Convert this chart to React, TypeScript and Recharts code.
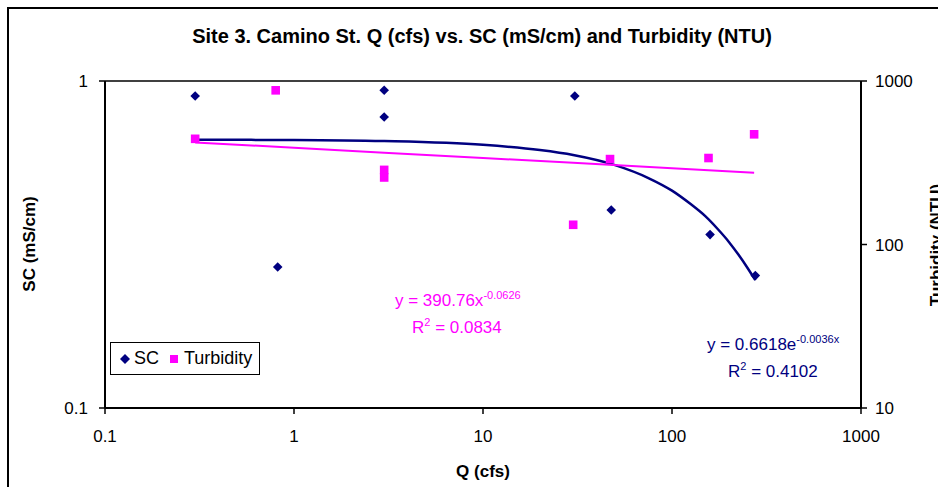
import { ScatterChart, Scatter, XAxis, YAxis, Legend, ReferenceLine } from 'recharts';

const qSC = [0.3, 0.82, 3, 3, 30.6, 47.7, 159, 276];
const scValues = [0.9, 0.27, 0.937, 0.776, 0.9, 0.403, 0.339, 0.254];
const qTurbidity = [0.3, 0.8, 3, 3, 30, 47, 156, 272];
const turbidityValues = [443, 877, 286, 257, 132, 333, 338, 472];

// trendline points
const scTrendQ = [0.3, 1, 3, 10, 20, 30, 50, 75, 100, 125, 150, 175, 200, 225, 250, 276];
const scTrendValues = [0.661, 0.66, 0.655, 0.638, 0.615, 0.594, 0.553, 0.505, 0.462, 0.421, 0.386, 0.352, 0.322, 0.294, 0.269, 0.246];
const turbTrendQ = [0.3, 1, 3, 10, 30, 100, 272];
const turbTrendValues = [421, 391, 364, 338, 316, 293, 275];

const xTicks = [0.1, 1, 10, 100, 1000];
const scTicks = [0.1, 1];
const turbTicks = [10, 100, 1000];

const NAVY = '#000080';
const PINK = '#FF00FF';
const FONT = '"Liberation Sans", Arial, sans-serif';

const toPoints = (xs: number[], ys: number[]) => xs.map((x, i) => ({ x, y: ys[i] }));

const scData = toPoints(qSC, scValues);
const turbData = toPoints(qTurbidity, turbidityValues);
const scTrend = toPoints(scTrendQ, scTrendValues);
const turbTrend = toPoints(turbTrendQ, turbTrendValues);

const Diamond = (props: any) => {
  const { cx, cy } = props;
  const r = 4.8;
  return <polygon points={`${cx},${cy - r} ${cx + r},${cy} ${cx},${cy + r} ${cx - r},${cy}`} fill={NAVY} />;
};

const Square = (props: any) => {
  const { cx, cy } = props;
  return <rect x={cx - 4.3} y={cy - 4.3} width={8.6} height={8.6} fill={PINK} />;
};

const NoDot = () => <g />;

const renderLegend = () => (
  <div style={{ width: 150, height: 33, boxSizing: 'border-box', border: '1px solid #000', background: '#fff',
    display: 'flex', alignItems: 'center', fontFamily: FONT, fontSize: 18, color: '#000' }}>
    <svg width={12} height={12} style={{ marginLeft: 8 }}><polygon points="6,1 11,6 6,11 1,6" fill={NAVY} /></svg>
    <span style={{ marginLeft: 3 }}>SC</span>
    <svg width={10} height={10} style={{ marginLeft: 10 }}><rect x={1} y={1} width={8} height={8} fill={PINK} /></svg>
    <span style={{ marginLeft: 5 }}>Turbidity</span>
  </div>
);

const tickStyle = { fill: '#000', fontSize: 17, fontFamily: FONT };
const supStyle = { fontSize: 11, verticalAlign: 'top', position: 'relative' as const, top: -6 };

export default function App() {
  return (
    <div style={{ position: 'fixed', left: 0, top: 0, width: 938, height: 487, overflow: 'hidden', background: '#fff', fontFamily: FONT }}>
      <ScatterChart width={938} height={487} margin={{ top: 81, right: 17, bottom: 49, left: 45 }}>
        <XAxis type="number" dataKey="x" scale="log" domain={[0.1, 1000]} ticks={xTicks} allowDataOverflow
          height={30} tick={tickStyle} tickSize={6} tickMargin={16} axisLine={{ stroke: '#000', strokeWidth: 2 }}
          tickLine={{ stroke: '#000', strokeWidth: 1.5 }} />
        <YAxis yAxisId="sc" type="number" dataKey="y" scale="log" domain={[0.1, 1]} ticks={scTicks} allowDataOverflow
          width={60} tick={tickStyle} tickSize={6} tickMargin={11} axisLine={{ stroke: '#000', strokeWidth: 2 }}
          tickLine={{ stroke: '#000', strokeWidth: 1.5 }} />
        <YAxis yAxisId="turb" orientation="right" type="number" dataKey="y" scale="log" domain={[10, 1000]} ticks={turbTicks} allowDataOverflow
          width={60} tick={tickStyle} tickSize={6} tickMargin={8} axisLine={{ stroke: '#000', strokeWidth: 2 }}
          tickLine={{ stroke: '#000', strokeWidth: 1.5 }} />
        <ReferenceLine yAxisId="sc" y={1} stroke="#000" strokeWidth={1.5} />
        <Legend content={renderLegend} layout="horizontal" verticalAlign="middle" align="center"
          wrapperStyle={{ position: 'absolute', left: 110, top: 342, width: 150, height: 33 }} />
        <Scatter name="SC trend" data={scTrend} yAxisId="sc" shape={NoDot} line={{ stroke: NAVY, strokeWidth: 2.5 }}
          lineJointType="monotoneX" legendType="none" isAnimationActive={false} />
        <Scatter name="Turbidity trend" data={turbTrend} yAxisId="turb" shape={NoDot} line={{ stroke: PINK, strokeWidth: 2 }}
          legendType="none" isAnimationActive={false} />
        <Scatter name="SC" data={scData} yAxisId="sc" shape={Diamond} isAnimationActive={false} />
        <Scatter name="Turbidity" data={turbData} yAxisId="turb" shape={Square} isAnimationActive={false} />
      </ScatterChart>

      <div style={{ position: 'absolute', zIndex: 5, pointerEvents: 'none', left: 7, top: 7, width: 929, height: 478, borderLeft: '2px solid #000', borderTop: '2px solid #000' }} />

      <div style={{ position: 'absolute', left: 482, top: 36, transform: 'translate(-50%, -50%)', fontSize: 20, fontWeight: 'bold', whiteSpace: 'nowrap' }}>
        Site 3. Camino St. Q (cfs) vs. SC (mS/cm) and Turbidity (NTU)
      </div>
      <div style={{ position: 'absolute', left: 483, top: 472, transform: 'translate(-50%, -50%)', fontSize: 17, fontWeight: 'bold', whiteSpace: 'nowrap' }}>
        Q (cfs)
      </div>
      <div style={{ position: 'absolute', left: 30, top: 244, transform: 'translate(-50%, -50%) rotate(-90deg)', fontSize: 17, fontWeight: 'bold', whiteSpace: 'nowrap' }}>
        SC (mS/cm)
      </div>
      <div style={{ position: 'absolute', zIndex: 6, left: 937, top: 245, transform: 'translate(-50%, -50%) rotate(-90deg)', fontSize: 17, fontWeight: 'bold', whiteSpace: 'nowrap' }}>
        Turbidity (NTU)
      </div>

      <div style={{ position: 'absolute', left: 395, top: 291, color: PINK, fontSize: 17, whiteSpace: 'nowrap', lineHeight: '20px' }}>
        y = 390.76x<sup style={supStyle}>-0.0626</sup>
      </div>
      <div style={{ position: 'absolute', left: 412, top: 318, color: PINK, fontSize: 17, whiteSpace: 'nowrap', lineHeight: '20px' }}>
        R<sup style={supStyle}>2</sup> = 0.0834
      </div>
      <div style={{ position: 'absolute', left: 707, top: 335, color: NAVY, fontSize: 17, whiteSpace: 'nowrap', lineHeight: '20px' }}>
        y = 0.6618e<sup style={supStyle}>-0.0036x</sup>
      </div>
      <div style={{ position: 'absolute', left: 728, top: 362, color: NAVY, fontSize: 17, whiteSpace: 'nowrap', lineHeight: '20px' }}>
        R<sup style={supStyle}>2</sup> = 0.4102
      </div>
    </div>
  );
}
